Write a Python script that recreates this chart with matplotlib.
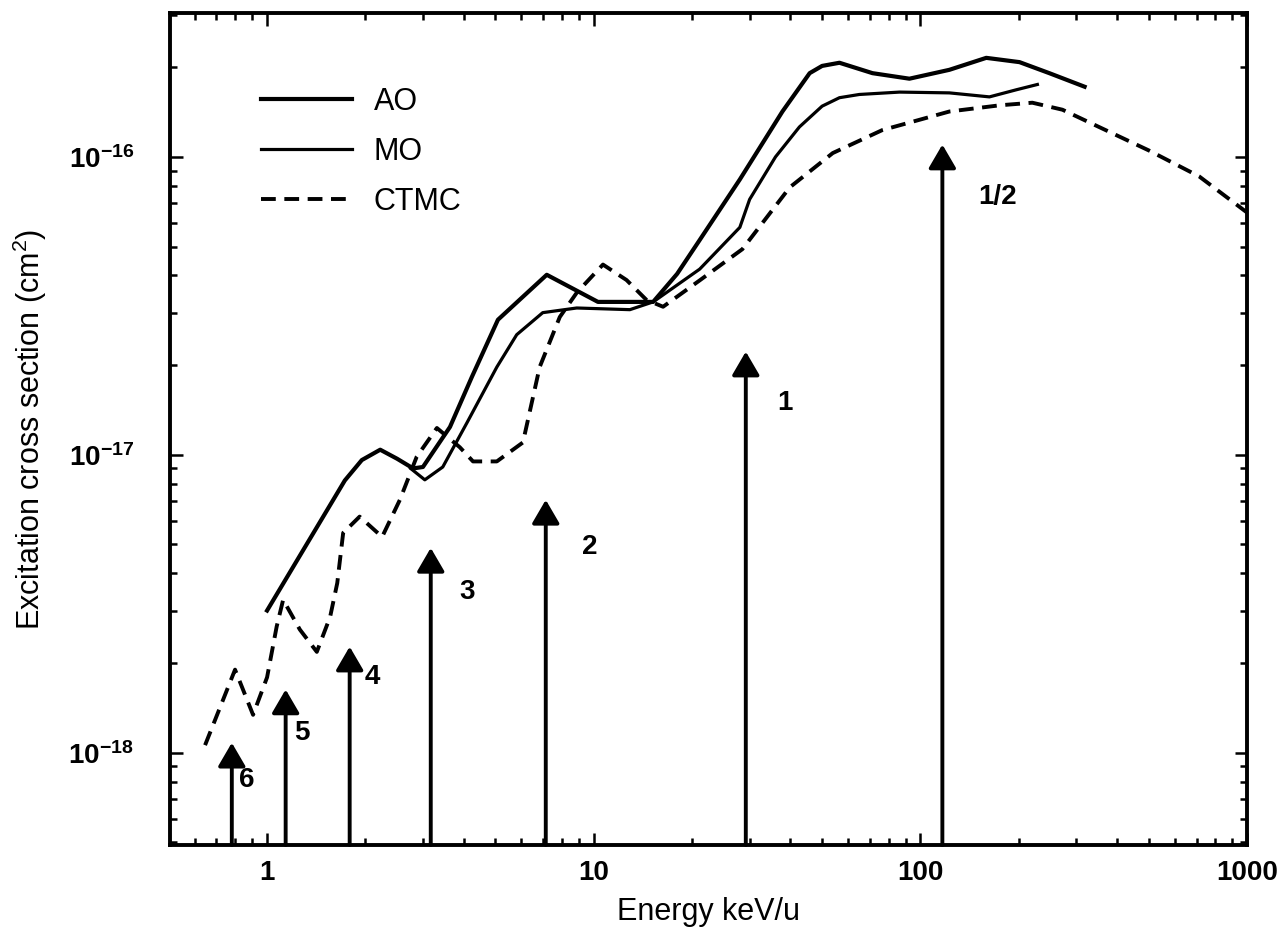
import numpy as np
import matplotlib.pyplot as plt
from matplotlib.ticker import LogLocator, NullFormatter

plt.rcParams['font.family'] = ['Liberation Sans', 'DejaVu Sans']
plt.rcParams['mathtext.fontset'] = 'custom'
plt.rcParams['mathtext.rm'] = 'Liberation Sans'
plt.rcParams['mathtext.bf'] = 'Liberation Sans:bold'

# AO curve (keV/u, cm^2)
ao_energy = [1.0, 1.73, 1.95, 2.22, 2.5, 2.8, 3.0, 3.63, 4.24, 5.09, 7.18, 10.3, 15.2,
             18.0, 21.1, 28.0, 37.8, 45.8, 50.0, 56.5, 71.3, 92.5, 122.6, 159, 201, 248, 318]
ao_sigma = [3.0e-18, 8.2e-18, 9.6e-18, 1.04e-17, 9.7e-18, 9.0e-18, 9.1e-18, 1.24e-17, 1.83e-17,
            2.84e-17, 4.02e-17, 3.26e-17, 3.26e-17, 4.05e-17, 5.26e-17, 8.4e-17, 1.42e-16,
            1.91e-16, 2.02e-16, 2.07e-16, 1.91e-16, 1.83e-16, 1.96e-16, 2.15e-16, 2.08e-16,
            1.91e-16, 1.72e-16]

# MO curve
mo_energy = [2.75, 3.04, 3.45, 4.09, 5.05, 5.81, 6.98, 8.87, 12.9, 15.2, 21.1, 28.0, 30.0,
             36.0, 42.6, 50.0, 56.5, 65.0, 86.3, 122.6, 162.6, 196.6, 228]
mo_sigma = [9.0e-18, 8.24e-18, 9.1e-18, 1.28e-17, 1.97e-17, 2.53e-17, 3.0e-17, 3.11e-17,
            3.07e-17, 3.26e-17, 4.2e-17, 5.8e-17, 7.2e-17, 1.0e-16, 1.26e-16, 1.48e-16,
            1.58e-16, 1.62e-16, 1.65e-16, 1.64e-16, 1.59e-16, 1.68e-16, 1.75e-16]

# CTMC curve
ctmc_energy = [0.646, 0.798, 0.906, 1.0, 1.07, 1.12, 1.26, 1.42, 1.56, 1.64, 1.71, 1.92, 2.25,
               2.55, 2.87, 3.31, 3.89, 4.27, 5.05, 6.07, 6.83, 7.87, 8.87, 10.67, 12.6, 14.5,
               16.3, 21.1, 28.5, 39.8, 53.9, 76.4, 122.6, 175, 220, 272, 352, 501, 713, 1000]
ctmc_sigma = [1.06e-18, 1.9e-18, 1.34e-18, 1.79e-18, 2.65e-18, 3.26e-18, 2.59e-18, 2.18e-18,
              2.86e-18, 3.71e-18, 5.47e-18, 6.2e-18, 5.3e-18, 7.06e-18, 9.84e-18, 1.23e-17,
              1.06e-17, 9.5e-18, 9.5e-18, 1.1e-17, 1.97e-17, 2.9e-17, 3.5e-17, 4.35e-17,
              3.86e-17, 3.31e-17, 3.14e-17, 3.85e-17, 4.9e-17, 7.9e-17, 1.03e-16, 1.23e-16,
              1.42e-16, 1.49e-16, 1.52e-16, 1.44e-16, 1.26e-16, 1.05e-16, 8.6e-17, 6.5e-17]

# velocity-matching arrows
arrow_labels = ['6', '5', '4', '3', '2', '1', '1/2']
arrow_energy = [0.78, 1.14, 1.79, 3.17, 7.13, 29.2, 116.7]
arrow_top = [1.08e-18, 1.63e-18, 2.27e-18, 4.87e-18, 7.06e-18, 2.22e-17, 1.1e-16]
label_offsets = [(11, -27), (12, -31), (16, -22), (26, -32), (32, -34), (28, -37), (40, -38)]

x_ticks = [1, 10, 100, 1000]
x_ticklabels = ['1', '10', '100', '1000']
y_ticks = [1e-18, 1e-17, 1e-16]


def main():
    fig = plt.figure(figsize=(12.84, 9.31), dpi=100)
    ax = fig.add_axes([0.1325, 0.0924, 0.8388, 0.8936])
    ax.set_xscale('log'); ax.set_yscale('log')

    ax.plot(ao_energy, ao_sigma, color='black', lw=3.0, label='AO')
    ax.plot(mo_energy, mo_sigma, color='black', lw=2.3, label='MO')
    ax.plot(ctmc_energy, ctmc_sigma, color='black', lw=2.8, ls=(0, (3.8, 2.2)), label='CTMC')

    for lab, e, top, off in zip(arrow_labels, arrow_energy, arrow_top, label_offsets):
        ax.annotate('', xy=(e, top), xycoords='data', xytext=(e, 0),
                    textcoords=('data', 'axes fraction'),
                    arrowprops=dict(arrowstyle='-|>,head_length=0.72,head_width=0.42',
                                    mutation_scale=20, lw=2.8, color='black',
                                    shrinkA=0, shrinkB=0))
        ax.annotate(lab, xy=(e, top), textcoords='offset points', xytext=off,
                    ha='center', va='center', fontsize=20, fontweight='bold')

    ax.set_xticks(x_ticks)
    ax.set_xticklabels(x_ticklabels)
    ax.set_yticks(y_ticks)
    ax.xaxis.set_minor_locator(LogLocator(base=10, subs=np.arange(2, 10)))
    ax.xaxis.set_minor_formatter(NullFormatter())
    ax.yaxis.set_minor_locator(LogLocator(base=10, subs=np.arange(2, 10)))
    ax.yaxis.set_minor_formatter(NullFormatter())
    ax.set_xlim(0.505, 1000)
    ax.set_ylim(4.9e-19, 3.04e-16)

    ax.tick_params(which='both', direction='in', top=True, right=True, width=1.8)
    ax.tick_params(which='major', length=9, labelsize=20)
    ax.tick_params(axis='x', which='major', pad=11)
    ax.tick_params(axis='y', which='major', pad=26)
    ax.tick_params(which='minor', length=5)
    for t in ax.get_xticklabels() + ax.get_yticklabels():
        t.set_fontweight('bold')
    for s in ax.spines.values():
        s.set_linewidth(2.8)

    ax.set_xlabel('Energy keV/u', fontsize=22, labelpad=8)
    ax.set_ylabel('Excitation cross section (cm$^2$)', fontsize=22, labelpad=14)

    ax.legend(loc='upper left', bbox_to_anchor=(0.084, 0.911), frameon=False,
              fontsize=22, handlelength=3.0, handletextpad=0.7, labelspacing=0.65,
              borderpad=0, borderaxespad=0)

    fig.savefig('out.png', dpi=100)


if __name__ == '__main__':
    main()
